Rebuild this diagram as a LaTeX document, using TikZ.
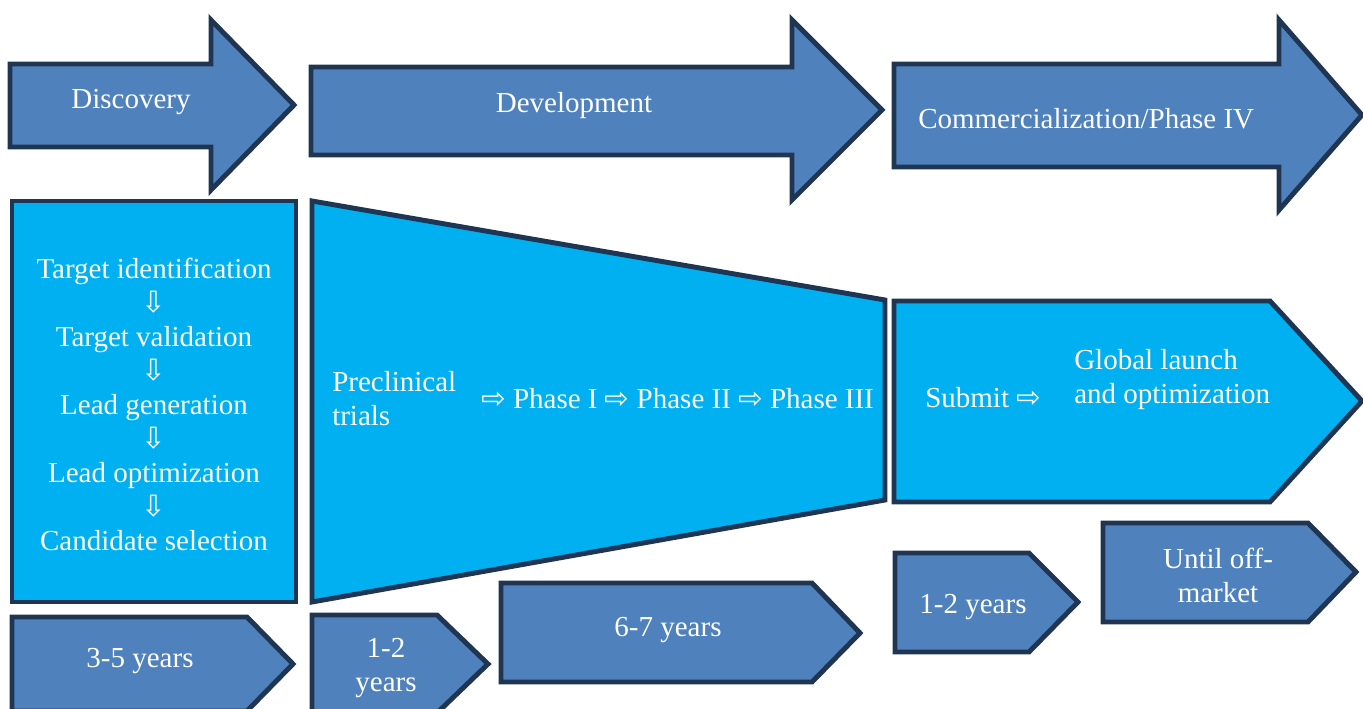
\documentclass[tikz,border=0pt]{standalone}
\usepackage{fontspec}
\setmainfont{Liberation Serif}
\newfontfamily\dv{DejaVu Sans}
\definecolor{arrowblue}{RGB}{79,129,189}
\definecolor{lightblue}{RGB}{0,176,240}
\definecolor{edgeblue}{RGB}{31,53,82}
\newcommand{\ra}{{\dv\fontsize{22}{25.5}\selectfont ⇨}}
\newcommand{\da}{{\dv\fontsize{22}{25.5}\selectfont ⇩}}
\tikzset{
  shp/.style={draw=edgeblue, line width=3.7pt, line join=miter, miter limit=10},
  dark/.style={shp, fill=arrowblue},
  light/.style={shp, fill=lightblue},
  txt/.style={text=white, inner sep=0pt, font=\fontsize{21.75}{25.5}\selectfont},
}
\begin{document}
\begin{tikzpicture}[x=0.75pt,y=-0.75pt]
\useasboundingbox (0,0) rectangle (1363,709);
\clip (0,0) rectangle (1363,709);
% top phase arrows
\draw[dark] (10,64) -- (211,64) -- (211,20) -- (294,105) -- (211,190) -- (211,147) -- (10,147) -- cycle;
\draw[dark] (311,67) -- (792,67) -- (792,20) -- (882,110) -- (792,200) -- (792,155) -- (311,155) -- cycle;
\draw[dark] (894,64) -- (1279,64) -- (1279,20) -- (1362,115) -- (1279,210) -- (1279,167) -- (894,167) -- cycle;
\node[txt] (disc) at (131,102) {Discovery};
\node[txt] (dev) at (574,106) {Development};
\node[txt, anchor=west] (comm) at (918,119) {Commercialization/Phase IV};
% middle shapes
\draw[light] (12,201) rectangle (296,602);
\draw[light] (312,201) -- (885,300) -- (885,500) -- (312,602) -- cycle;
\draw[light] (894,301) -- (1270,301) -- (1362,401) -- (1270,502) -- (894,502) -- cycle;
\node[txt, align=center] (steps) at (154,404) {Target identification\\ \da\\ Target validation\\ \da\\ Lead generation\\ \da\\ Lead optimization\\ \da\\ Candidate selection};
\node[txt, align=left, anchor=west] (precl) at (332,399) {Preclinical\\trials};
\node[txt, anchor=west] (phases) at (481,399) {\ra{} Phase I \ra{} Phase II \ra{} Phase III};
\node[txt, anchor=west] (submit) at (925,398) {Submit \ra};
\node[txt, align=left, anchor=west] (launch) at (1074,380) {Global launch\\and optimization};
% bottom duration chevrons
\draw[dark] (12,617) -- (247,617) -- (293,664) -- (247,711) -- (12,711) -- cycle;
\draw[dark] (312,615) -- (437,615) -- (488,664) -- (437,713) -- (312,713) -- cycle;
\draw[dark] (501,583) -- (812,583) -- (860,633) -- (812,682) -- (501,682) -- cycle;
\draw[dark] (895,553) -- (1029,553) -- (1078,602) -- (1029,652) -- (895,652) -- cycle;
\draw[dark] (1103,523) -- (1308,523) -- (1356,572) -- (1308,622) -- (1103,622) -- cycle;
\node[txt] (y1) at (140,661) {3-5 years};
\node[txt, align=center] (y2) at (386,668) {1-2\\years};
\node[txt] (y3) at (668,630) {6-7 years};
\node[txt] (y4) at (973,607) {1-2 years};
\node[txt, align=center] (y5) at (1218,575) {Until off-\\market};
\end{tikzpicture}
\end{document}
